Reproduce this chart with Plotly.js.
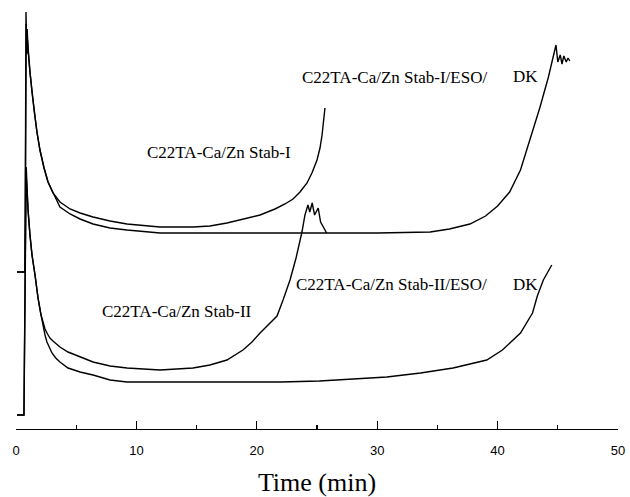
<!DOCTYPE html>
<html>
<head>
<meta charset="utf-8">
<script src="https://cdn.plot.ly/plotly-3.0.1.min.js"></script>
<style>html,body{margin:0;padding:0;background:#fff;}#chart{width:630px;height:497px;}</style>
</head>
<body>
<div id="chart"></div>
<script>
// Time (min) and signal (arbitrary units)
const stab1_t = [0.08,0.75,0.83,0.88,0.93,1.0,1.16,1.33,1.50,1.74,1.99,2.33,2.66,3.07,3.65,4.49,5.32,6.40,7.81,9.22,10.71,11.96,14.70,16.11,17.52,19.02,20.27,21.51,22.34,23.01,23.59,24.17,24.58,25.00,25.25,25.42,25.58,25.66];
const stab1_v = [157,157,417,385,400,379,357,337,319,297,279,261,247,236,227,220,216,212,208,205,203,202,202,203,206,210,214,220,225,230,237,246,256,269,281,294,309,321];

const stab1eso_t = [0.08,0.75,0.85,0.9,0.95,1.0,1.16,1.33,1.50,1.74,1.99,2.33,2.66,3.07,3.65,4.49,5.32,6.40,7.81,9.22,10.71,11.96,15,20,25,30,34.4,36.0,37.7,39.0,40.0,41.0,41.9,42.7,43.5,44.2,44.5,44.85,45.0,45.2,45.35,45.5,45.7,45.85,46.0];
const stab1eso_v = [157,157,405,375,390,379,357,337,319,297,279,261,247,236,222,215,210,205,201,199,197,196,196,196,196,196,197,200,205,213,223,237,259,289,321,351,367,384,367,374,365,373,367,371,368];

const stab2_t = [0.08,0.66,0.83,0.91,1.0,1.16,1.33,1.58,1.83,2.08,2.25,2.41,2.62,2.82,3.07,3.4,3.65,4.32,5.32,6.40,7.81,9.22,11.96,14.70,16.11,17.52,18.85,19.6,20.27,20.93,21.68,22.18,22.76,23.26,23.75,24.0,24.25,24.4,24.6,24.8,25.1,25.3,25.6,25.8];
const stab2_v = [14,14,257,229,219,194,174,154,131,114,106,100,95,91,88,85,82,77,72,67,63,61,59,61,64,69,79,87,96,104,113,129,149,171,197,214,224,217,226,214,221,207,201,196];

const stab2eso_t = [0.08,0.66,0.85,0.93,1.0,1.16,1.33,1.58,1.83,2.08,2.25,2.41,2.57,2.8,2.99,3.3,3.65,4.32,5.32,6.40,7.81,9.22,15,22,25.2,30.8,33.6,36.3,39.1,40.4,41.9,42.9,43.3,43.8,44.5];
const stab2eso_v = [14,14,262,235,219,194,174,154,131,114,103,94,87,80,76,71,67,61,57,54,49,47,47,47,48,52,56,61,69,79,96,116,133,149,164];

const xTicks = [0,10,20,30,40,50];

const line = {color:'#000', width:1.4};
const traces = [
  {x:stab1_t, y:stab1_v, mode:'lines', line:line, name:'C22TA-Ca/Zn Stab-I'},
  {x:stab1eso_t, y:stab1eso_v, mode:'lines', line:line, name:'C22TA-Ca/Zn Stab-I/ESO/DK'},
  {x:stab2_t, y:stab2_v, mode:'lines', line:line, name:'C22TA-Ca/Zn Stab-II'},
  {x:stab2eso_t, y:stab2eso_v, mode:'lines', line:line, name:'C22TA-Ca/Zn Stab-II/ESO/DK'}
];

const serif = 'Liberation Serif, Times New Roman, serif';
const annFont = {family:serif, size:17, color:'#000'};
function ann(x,y,text){return {x:x,y:y,xref:'x',yref:'y',text:text,showarrow:false,font:annFont};}

const layout = {
  width:630, height:497,
  margin:{l:16, r:12, t:5, b:68},
  paper_bgcolor:'#fff', plot_bgcolor:'#fff',
  showlegend:false,
  xaxis:{
    range:[0,50], tickvals:xTicks, ticktext:xTicks.map(String),
    ticks:'inside', ticklen:8, tickwidth:1.2, tickcolor:'#000',
    showline:true, linecolor:'#000', linewidth:1.2,
    showgrid:false, zeroline:false, ticklabelstandoff:9,
    minor:{dtick:5, ticks:'inside', ticklen:4, tickcolor:'#000', tickwidth:1.2, showgrid:false},
    tickfont:{family:'Liberation Sans, Arial, sans-serif', size:13, color:'#000'},
    title:{text:'Time (min)', font:{family:serif, size:26, color:'#000'}, standoff:17}
  },
  yaxis:{range:[0,424], visible:false, showgrid:false, zeroline:false},
  annotations:[
    ann(16.9,277,'C22TA-Ca/Zn Stab-I'),
    ann(31.4,352,'C22TA-Ca/Zn Stab-I/ESO/'),
    ann(42.3,353,'DK'),
    ann(13.4,118,'C22TA-Ca/Zn Stab-II'),
    ann(31.2,145,'C22TA-Ca/Zn Stab-II/ESO/'),
    ann(42.3,145,'DK')
  ]
};
Plotly.newPlot('chart', traces, layout, {displayModeBar:false, staticPlot:true});
</script>
</body>
</html>
